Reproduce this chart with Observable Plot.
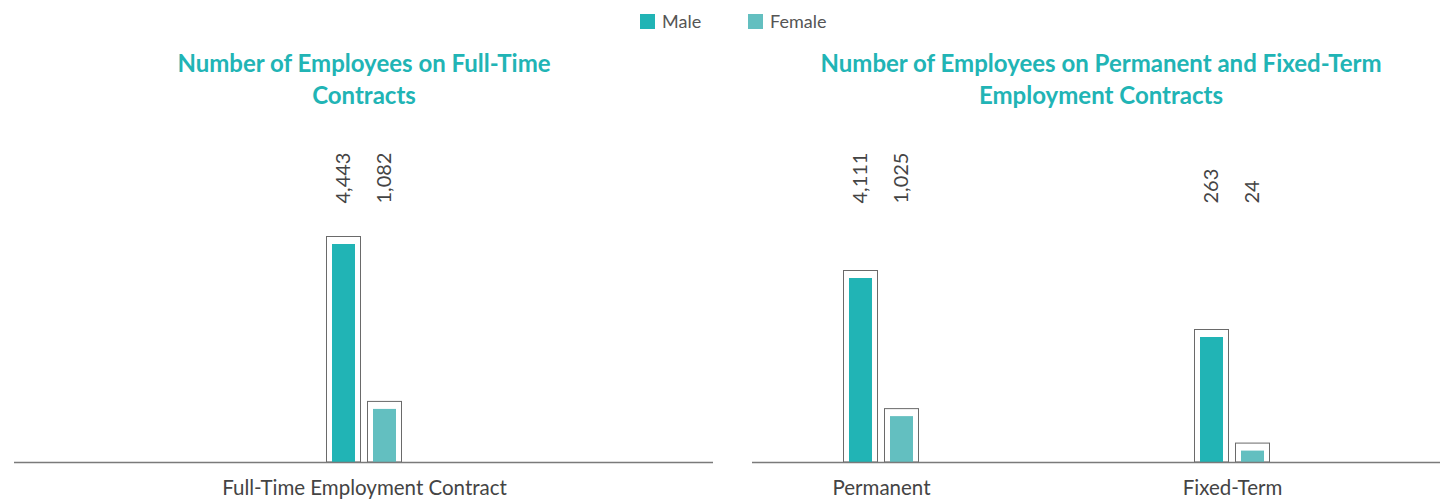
<!DOCTYPE html>
<html>
<head>
<meta charset="utf-8">
<script src="https://cdn.jsdelivr.net/npm/d3@7"></script>
<script src="https://cdn.jsdelivr.net/npm/@observablehq/plot@0.6"></script>
<style>
  html, body { margin: 0; padding: 0; background: #fff; }
  #page { position: relative; width: 1440px; height: 501px; overflow: hidden; font-family: Lato, "Open Sans", sans-serif; }
  .legend-item { position: absolute; top: 10px; font-size: 18px; color: #555; line-height: 22px; display: flex; align-items: center; }
  .swatch { width: 15px; height: 15px; margin-right: 7px; }
  .title { position: absolute; top: 47px; font-weight: 700; font-size: 24px; line-height: 32px; color: #21b4b5; text-align: center; white-space: nowrap; transform: translateX(-50%); }
  .chart { position: absolute; top: 140px; }
  .chart svg { overflow: visible; }
</style>
</head>
<body>
<div id="page"></div>
<script>
// Employees by contract type and gender
const sexes = ["Male", "Female"];
const sexColors = ["#21b4b5", "#63bfc0"];
const categories = ["Full-Time Employment Contract", "Permanent", "Fixed-Term"];
const fullTime = [4443, 1082];
const permanent = [4111, 1025];
const fixedTerm = [263, 24];
const panelTitles = [
  ["Number of Employees on Full-Time", "Contracts"],
  ["Number of Employees on Permanent and Fixed-Term", "Employment Contracts"]
];

const page = document.getElementById("page");

// Legend
const legendPos = [640, 748];
sexes.forEach((s, i) => {
  const item = document.createElement("div");
  item.className = "legend-item";
  item.style.left = legendPos[i] + "px";
  item.innerHTML = `<span class="swatch" style="background:${sexColors[i]}"></span><span>${s}</span>`;
  page.appendChild(item);
});

// Panel titles
const titleCenters = [364, 1101];
panelTitles.forEach((lines, i) => {
  const t = document.createElement("div");
  t.className = "title";
  t.style.left = titleCenters[i] + "px";
  t.innerHTML = lines.join("<br>");
  page.appendChild(t);
});

// One small bar chart per contract category
function groupChart({values, category, left, width, center, barTop}) {
  const rows = sexes.map((s, i) => ({sex: s, value: values[i]}));
  const baseline = 322;
  const svg = Plot.plot({
    width,
    height: 360,
    marginTop: 63,
    marginBottom: 6,
    marginLeft: 0,
    marginRight: 0,
    style: {background: "transparent", overflow: "visible"},
    x: {type: "band", domain: sexes, range: [center - 41, center + 41], paddingInner: 0.44, paddingOuter: 0.22, axis: null},
    y: {domain: [0, values[0]], range: [baseline, barTop], axis: null},
    color: {domain: sexes, range: sexColors},
    marks: [
      Plot.barY(rows, {x: "sex", y: "value", fill: "none", stroke: "#6a6a6a", strokeWidth: 1,
        insetLeft: -5.5, insetRight: -5.5, insetTop: -7.5}),
      Plot.barY(rows, {x: "sex", y: "value", fill: "sex"}),
      Plot.ruleY([0], {stroke: "#7a7a7a", strokeWidth: 1.5}),
      Plot.text(rows, {x: "sex", text: d => d3.format(",")(d.value), frameAnchor: "top",
        rotate: -90, textAnchor: "start", lineAnchor: "middle",
        fontSize: 20, fill: "#444", fontFamily: "Lato, sans-serif"}),
      Plot.text([category], {frameAnchor: "bottom", lineAnchor: "bottom", dx: center - width / 2,
        fontSize: 20.5, fill: "#444", fontFamily: "Lato, sans-serif"})
    ]
  });
  const holder = document.createElement("div");
  holder.className = "chart";
  holder.style.left = left + "px";
  holder.appendChild(svg);
  page.appendChild(holder);
}

groupChart({values: fullTime, category: categories[0], left: 14, width: 699, center: 350, barTop: 104});
groupChart({values: permanent, category: categories[1], left: 752, width: 258, center: 129, barTop: 138});
groupChart({values: fixedTerm, category: categories[2], left: 1010, width: 430, center: 222, barTop: 197});
</script>
</body>
</html>
